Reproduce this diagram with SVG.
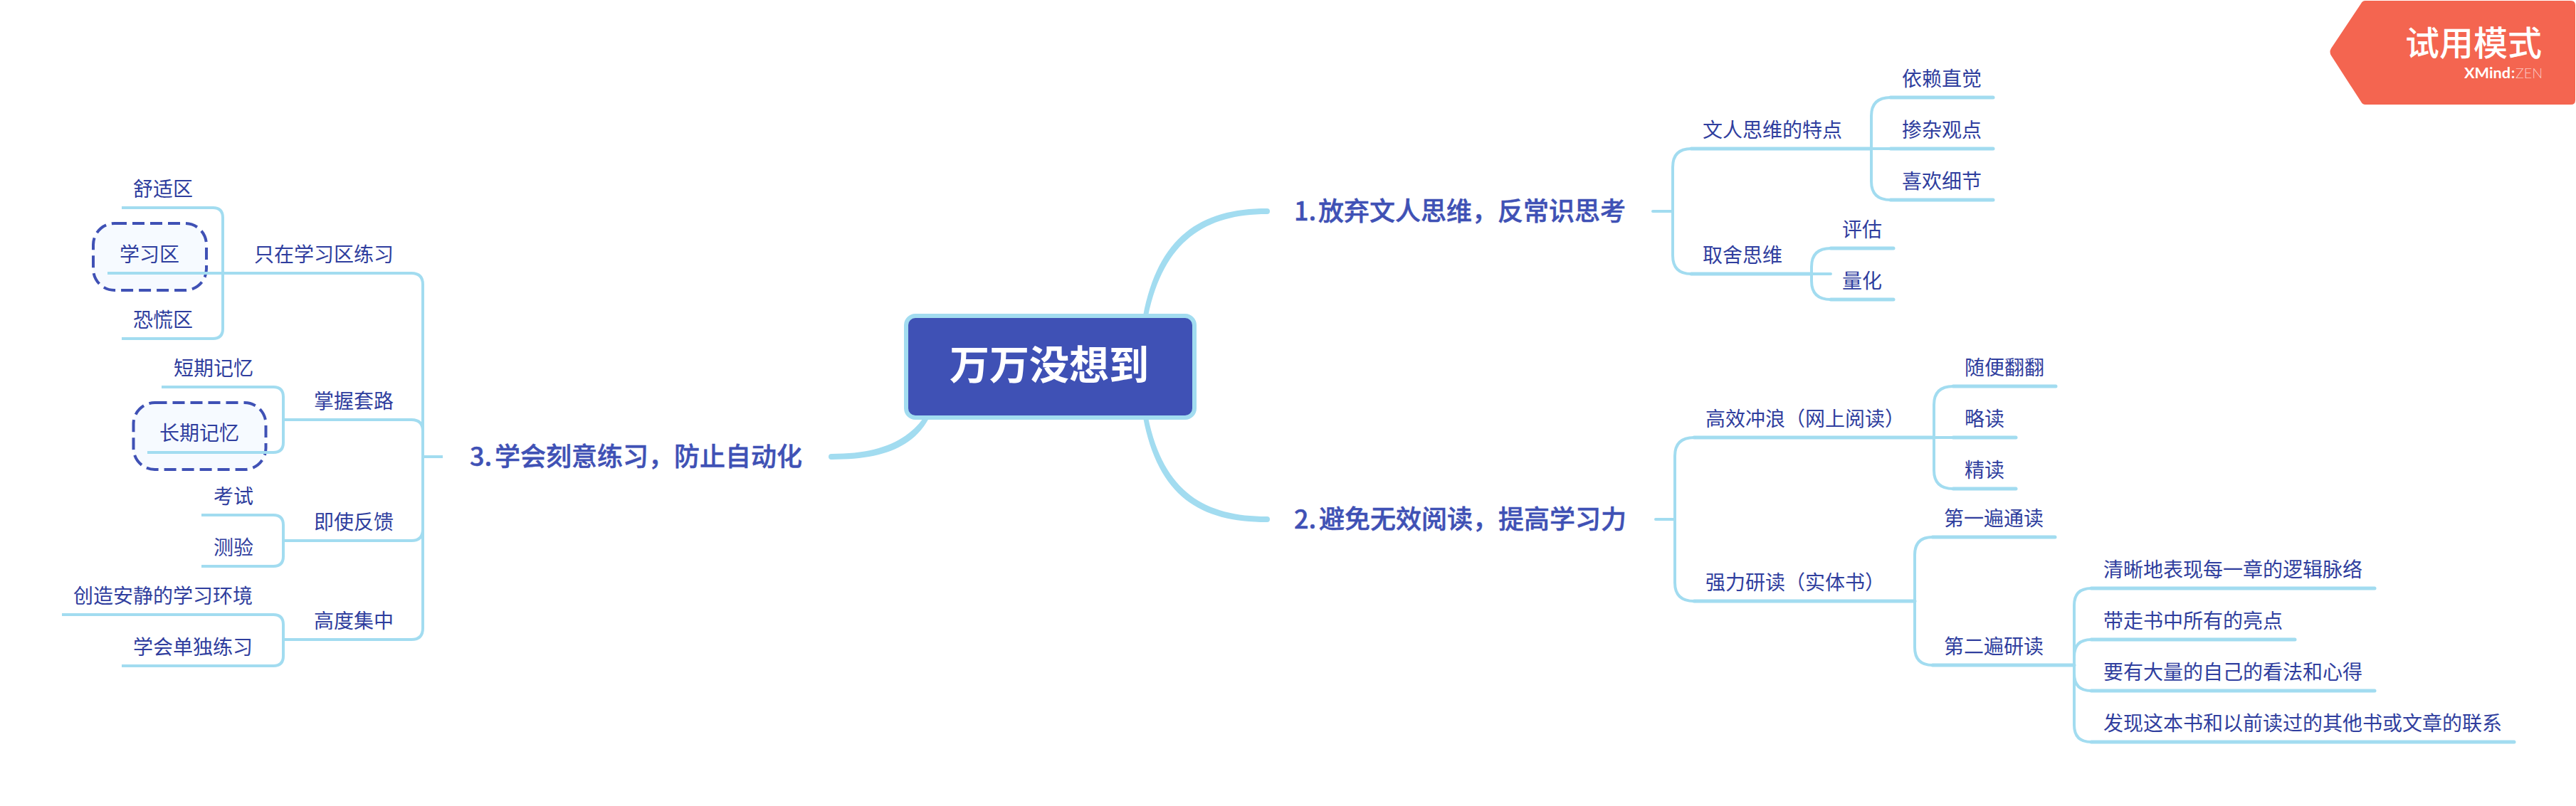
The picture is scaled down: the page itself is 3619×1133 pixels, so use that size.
<svg xmlns="http://www.w3.org/2000/svg" width="3619" height="1133" viewBox="0 0 3619 1133">
<style>
text{font-family:"Noto Sans CJK SC","Noto Sans",sans-serif}
.t{font-size:28px;fill:#2F3E9E}
.m{font-size:36px;font-weight:500;fill:#3F51B5;stroke:#3F51B5;stroke-width:.5}
.c{font-size:56px;font-weight:700;fill:#fff;text-anchor:middle}
.ul{stroke:#A2DCF0;stroke-width:5;stroke-linecap:round;fill:none}
.ll{stroke:#A2DCF0;stroke-width:4;fill:none}
.cn{stroke:#A2DCF0;stroke-width:4;fill:none;stroke-linecap:round}
.cf{fill:#A2DCF0}
.box{fill:#F6FAFF;stroke:#3F51B5;stroke-width:4;stroke-dasharray:17 8}
.x{font-family:Lato,sans-serif;font-size:20px;fill:#fff}
</style>
<rect width="3619" height="1133" fill="#fff"/>
<g id="badge">
<path d="M3317,5Q3319,1 3323,1H3612Q3618,1 3618,7V141Q3618,147 3612,147H3323Q3319,147 3317,143L3275,78Q3272,73 3275,68Z" fill="#F46550"/>
<text x="3379" y="78" font-size="48" font-weight="500" fill="#fff">试用模式</text>
<text class="x" x="3462" y="110" font-weight="700" textLength="65" lengthAdjust="spacingAndGlyphs">XMind</text>
<text class="x" x="3528" y="110" font-weight="700">:</text>
<text class="x" x="3534" y="110" font-weight="300" fill-opacity=".65" textLength="38" lengthAdjust="spacingAndGlyphs">ZEN</text>
</g>
<g id="root"><rect x="1273" y="444" width="405" height="143" rx="13" fill="#3F51B5" stroke="#A2DCF0" stroke-width="6"/><text class="c" x="1474" y="533">万万没想到</text></g>
<g id="b1"><text class="m" x="1818" y="310">1. <tspan x="1852">放弃文人思维，反常识思考</tspan></text></g>
<g id="b2"><text class="m" x="1818" y="743">2. <tspan x="1853">避免无效阅读，提高学习力</tspan></text></g>
<g id="b3"><text class="m" x="660" y="655">3. <tspan x="695">学会刻意练习，防止自动化</tspan></text></g>

<g id="n11"><text class="t" x="2392" y="193">文人思维的特点</text><path class="ul" d="M2376,209H2629"/></g>
<g id="n111"><text class="t" x="2672" y="121">依赖直觉</text><path class="ul" d="M2656,137H2800"/></g>
<g id="n112"><text class="t" x="2672" y="193">掺杂观点</text><path class="ul" d="M2656,209H2800"/></g>
<g id="n113"><text class="t" x="2672" y="265">喜欢细节</text><path class="ul" d="M2656,281H2800"/></g>
<g id="n12"><text class="t" x="2392" y="369">取舍思维</text><path class="ul" d="M2376,385H2545"/></g>
<g id="n121"><text class="t" x="2588" y="333">评估</text><path class="ul" d="M2572,349H2660"/></g>
<g id="n122"><text class="t" x="2588" y="405">量化</text><path class="ul" d="M2572,421H2660"/></g>

<g id="n21"><text class="t" x="2396" y="599">高效冲浪（网上阅读）</text><path class="ul" d="M2380,615H2717"/></g>
<g id="n211"><text class="t" x="2760" y="527">随便翻翻</text><path class="ul" d="M2744,543H2888"/></g>
<g id="n212"><text class="t" x="2760" y="599">略读</text><path class="ul" d="M2744,615H2832"/></g>
<g id="n213"><text class="t" x="2760" y="671">精读</text><path class="ul" d="M2744,687H2832"/></g>
<g id="n22"><text class="t" x="2396" y="829">强力研读（实体书）</text><path class="ul" d="M2380,845H2690"/></g>
<g id="n221"><text class="t" x="2731" y="739">第一遍通读</text><path class="ul" d="M2715,755H2887"/></g>
<g id="n222"><text class="t" x="2731" y="919">第二遍研读</text><path class="ul" d="M2715,935H2914"/></g>
<g id="n2221"><text class="t" x="2955" y="811">清晰地表现每一章的逻辑脉络</text><path class="ul" d="M2938,827H3336"/></g>
<g id="n2222"><text class="t" x="2955" y="883">带走书中所有的亮点</text><path class="ul" d="M2938,899H3224"/></g>
<g id="n2223"><text class="t" x="2955" y="955">要有大量的自己的看法和心得</text><path class="ul" d="M2938,971H3336"/></g>
<g id="n2224"><text class="t" x="2955" y="1027">发现这本书和以前读过的其他书或文章的联系</text><path class="ul" d="M2938,1043H3532"/></g>

<g id="n31"><text class="t" x="357" y="368">只在学习区练习</text><path class="ll" d="M313,384H578"/></g>
<g id="n311"><text class="t" x="187" y="276">舒适区</text><path class="ll" d="M171,292H299"/></g>
<g id="n312"><rect class="box" x="131" y="314" width="159" height="94" rx="30"/><text class="t" x="168" y="368">学习区</text><path class="ll" d="M151,384H313"/></g>
<g id="n313"><text class="t" x="187" y="460">恐慌区</text><path class="ll" d="M171,476H299"/></g>
<g id="n32"><text class="t" x="441" y="574">掌握套路</text><path class="ll" d="M398,590H578"/></g>
<g id="n321"><text class="t" x="244" y="528">短期记忆</text><path class="ll" d="M227,544H384"/></g>
<g id="n322"><rect class="box" x="187.500" y="566" width="186" height="94" rx="30"/><text class="t" x="224" y="619">长期记忆</text><path class="ll" d="M207,636H384"/></g>
<g id="n33"><text class="t" x="441" y="744">即使反馈</text><path class="ll" d="M398,760H578"/></g>
<g id="n331"><text class="t" x="300" y="708">考试</text><path class="ll" d="M283,724H384"/></g>
<g id="n332"><text class="t" x="300" y="780">测验</text><path class="ll" d="M283,796H384"/></g>
<g id="n34"><text class="t" x="441" y="883">高度集中</text><path class="ll" d="M398,899H578"/></g>
<g id="n341"><text class="t" x="103" y="848">创造安静的学习环境</text><path class="ll" d="M87,864H384"/></g>
<g id="n342"><text class="t" x="187" y="920">学会单独练习</text><path class="ll" d="M171,936H384"/></g>

<g id="connectors">
<path class="cf" d="M1606,444C1627,333 1686,293 1780,293Q1784,293 1784,297Q1784,301 1780,301C1694,301 1635,338 1613,444Z"/>
<path class="cf" d="M1606,587C1627,698 1686,734 1780,734Q1784,734 1784,730Q1784,726 1780,726C1694,726 1635,693 1613,587Z"/>
<path class="cf" d="M1297,588C1272,622 1232,638 1168,638Q1164,638 1164,642Q1164,646 1168,646C1238,646 1282,630 1305,588Z"/>
<path class="cn" d="M2322,297H2350M2376,209Q2350,209 2350,235V359Q2350,385 2376,385"/>
<path class="cn" d="M2656,137Q2629,137 2629,163V255Q2629,281 2656,281M2629,209H2656"/>
<path class="cn" d="M2572,349Q2545,349 2545,375V395Q2545,421 2572,421M2545,385H2572"/>
<path class="cn" d="M2326,730H2353M2380,615Q2353,615 2353,641V819Q2353,845 2380,845"/>
<path class="cn" d="M2744,543Q2717,543 2717,569V661Q2717,687 2744,687M2717,615H2744"/>
<path class="cn" d="M2715,755Q2690,755 2690,780V910Q2690,935 2715,935"/>
<path class="cn" d="M2938,827Q2914,827 2914,851V1019Q2914,1043 2938,1043M2938,899Q2914,899 2914,923M2914,947Q2914,971 2938,971"/>
<path class="ll" d="M299,292Q313,292 313,306V462Q313,476 299,476"/>
<path class="ll" d="M578,384Q594,384 594,400V883Q594,899 578,899M578,590Q594,590 594,606M594,744Q594,760 578,760M594,642H622"/>
<path class="ll" d="M384,544Q398,544 398,558V622Q398,636 384,636"/>
<path class="ll" d="M384,724Q398,724 398,738V782Q398,796 384,796"/>
<path class="ll" d="M384,864Q398,864 398,878V922Q398,936 384,936"/>
</g>
</svg>
